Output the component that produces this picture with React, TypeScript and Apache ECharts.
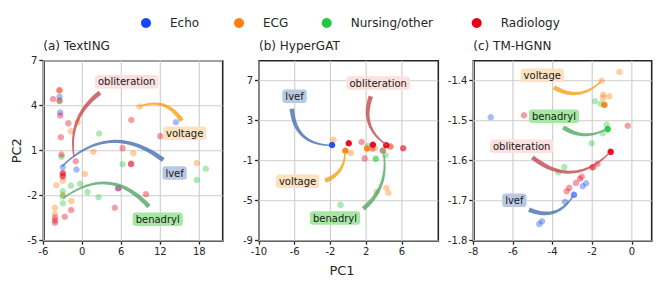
import React, { useEffect, useRef } from "react";
import * as echarts from "echarts";

// ---------- categories / legend ----------
const categories = ["Echo", "ECG", "Nursing/other", "Radiology"];
const categoryColors = ["#1447ff", "#ff7f0e", "#22c93c", "#e8001a"];

// ---------- annotation terms ----------
const terms = ["lvef", "voltage", "benadryl", "obliteration"];
const termArrowColors = ["#4c72b0", "#f7a21b", "#55a868", "#c44e52"];
const termBoxColors = ["#b9c9e4", "#fde2bf", "#a6e7a2", "#fde0e0"];

// ---------- panel (a) TextING ----------
const aXTicks = [-6, 0, 6, 12, 18];
const aYTicks = [-5, -2, 1, 4, 7];
const aXRange = [-6, 21.6];
const aYRange = [-5, 7];
const aEcho = [[-3.5, 4.6], [-3.4, 3.55], [-3.0, -0.1], [-0.9, -0.25], [5.5, -1.5], [14.4, 2.9]];
const aECG = [[-3.55, 5.0], [-1.75, 2.3], [-0.7, 2.9], [-3.0, -1.0], [0.4, -0.55], [-4.0, -1.3], [-3.0, -1.95], [-1.7, -2.35], [-4.2, -2.8], [-4.2, -3.2], [1.7, 0.93], [7.85, 0.83], [8.8, 3.95], [17.6, 0.17]];
const aNursing = [[-3.5, 4.3], [2.6, 2.15], [-3.2, 0.6], [-1.75, -1.33], [-0.35, -1.2], [-3.0, -1.7], [0.8, -1.75], [-3.0, -2.05], [2.5, -2.1], [-3.0, -2.5], [6.2, 0.1], [19.0, -0.2], [17.6, -0.95]];
const aRadiology = [[-3.5, 5.05], [-3.5, 4.35], [-4.5, 4.45], [-3.4, 3.35], [-2.15, 2.83], [-3.3, 1.9], [-3.2, 0.75], [-1.0, 0.3], [-3.0, -0.5], [-3.0, -0.5], [-3.0, -0.7], [-3.0, -0.7], [-1.7, -2.95], [-4.2, -3.45], [-2.7, -3.4], [-4.2, -3.65], [-4.2, -3.8], [5.0, -2.8], [5.55, -1.5], [6.2, 1.17], [7.5, 0.12], [7.5, 0.12], [7.55, 3.05], [12.0, 1.97], [9.8, -1.9]];
const aStrong = [[], [], [], []];
const aLabelPos = [[14.2, -0.49], [15.75, 2.16], [11.6, -3.57], [6.83, 5.6]];
const aArrowTail = [[12.46, 0.38], [15.29, 3.0], [10.26, -2.73], [2.72, 4.87]];
const aArrowHead = [[-3.17, -0.07], [8.8, 3.95], [-2.92, -2.17], [-1.28, 0.6]];
const aArrowRad = [0.43, 0.4, 0.45, 0.3];

// ---------- panel (b) HyperGAT ----------
const bXTicks = [-10, -6, -2, 2, 6];
const bYTicks = [-9, -5, -1, 3, 7];
const bXRange = [-10, 10.08];
const bYRange = [-9, 9];
const bEcho: number[][] = [];
const bECG = [[-1.65, 1.1], [0.3, -0.22], [3.0, 0.25], [3.15, -4.1], [4.25, -3.7], [4.5, -4.2], [4.7, 0.42]];
const bNursing = [[2.16, 0.47], [4.15, -0.45], [-0.87, -5.42], [3.85, 0.05], [3.08, -0.8], [3.08, -0.8]];
const bRadiology = [[1.5, 0.87], [1.83, -0.77], [6.15, 0.25], [6.15, 0.25], [2.7, 0.2], [3.87, 0.0], [4.72, 0.42]];
const bStrong = [[[-1.82, 0.57]], [[-0.33, 0.0], [2.1, 0.22]], [], [[0.05, 0.75], [2.75, 0.6], [4.25, 0.55]]];
const bLabelPos = [[-6.02, 5.44], [-5.68, -3.06], [-1.49, -6.73], [3.35, 6.77]];
const bArrowTail = [[-6.32, 4.2], [-2.6, -3.0], [1.68, -5.8], [2.53, 5.44]];
const bArrowHead = [[-1.97, 0.54], [-0.37, -0.13], [3.98, -0.4], [4.35, 0.54]];
const bArrowRad = [0.45, 0.35, 0.28, 0.39];

// ---------- panel (c) TM-HGNN ----------
const cXTicks = [-8, -6, -4, -2, 0];
const cYTicks = [-1.8, -1.7, -1.6, -1.5, -1.4];
const cXRange = [-8, 1.0];
const cYRange = [-1.8, -1.35];
const cEcho = [[-7.12, -1.4915], [-2.31, -1.6565], [-2.48, -1.664], [-2.92, -1.685], [-2.92, -1.685], [-3.37, -1.703], [-4.53, -1.7515], [-4.67, -1.758]];
const cECG = [[-0.63, -1.378], [-1.52, -1.40], [-1.45, -1.435], [-1.45, -1.443], [-1.14, -1.439]];
const cNursing = [[-1.86, -1.4515], [-1.56, -1.458], [-1.27, -1.51], [-1.47, -1.5315], [-2.03, -1.5565], [-3.41, -1.616], [-3.71, -1.629]];
const cRadiology = [[-5.44, -1.4865], [-0.21, -1.5125], [-1.74, -1.608], [-1.98, -1.6165], [-1.98, -1.6165], [-2.53, -1.64], [-2.62, -1.645], [-2.82, -1.6558], [-3.16, -1.668], [-3.29, -1.6765]];
const cStrong = [[], [[-1.39, -1.46]], [[-1.22, -1.521]], [[-1.07, -1.578]]];
const cLabelPos = [[-5.93, -1.699], [-4.52, -1.3866], [-3.93, -1.489], [-5.56, -1.564]];
const cArrowTail = [[-5.19, -1.7225], [-3.93, -1.4166], [-3.46, -1.5166], [-5.02, -1.5915]];
const cArrowHead = [[-2.95, -1.6865], [-1.56, -1.4016], [-1.27, -1.52], [-1.14, -1.581]];
const cArrowRad = [0.43, 0.38, 0.31, 0.44];

const panels = [
  { title: "(a) TextING", xTicks: aXTicks, yTicks: aYTicks, xRange: aXRange, yRange: aYRange, faint: [aEcho, aECG, aNursing, aRadiology], strong: aStrong, labelPos: aLabelPos, tail: aArrowTail, head: aArrowHead, rad: aArrowRad },
  { title: "(b) HyperGAT", xTicks: bXTicks, yTicks: bYTicks, xRange: bXRange, yRange: bYRange, faint: [bEcho, bECG, bNursing, bRadiology], strong: bStrong, labelPos: bLabelPos, tail: bArrowTail, head: bArrowHead, rad: bArrowRad },
  { title: "(c) TM-HGNN", xTicks: cXTicks, yTicks: cYTicks, xRange: cXRange, yRange: cYRange, faint: [cEcho, cECG, cNursing, cRadiology], strong: cStrong, labelPos: cLabelPos, tail: cArrowTail, head: cArrowHead, rad: cArrowRad },
];

// ---------- layout ----------
const gridRects = [
  { left: 43.3, top: 60.7, width: 179.4, height: 180 },
  { left: 259, top: 60.7, width: 179.3, height: 180 },
  { left: 473.3, top: 60.7, width: 178.4, height: 180 },
];
const legendX = [146, 239, 326.7, 476.7];
const FONT = "DejaVu Sans";
const DARK = "#262626";

const fmt = (v: number) => String(Number(v.toFixed(2)));

function buildOption() {
  const grid = gridRects.map((g) => ({ ...g, show: true, borderColor: DARK, borderWidth: 1.6, backgroundColor: "transparent" }));
  const axisCommon = (i: number, range: number[], ticks: number[]) => ({
    type: "value",
    gridIndex: i,
    min: range[0],
    max: range[1],
    splitLine: { show: false },
    axisLine: { show: true, onZero: false, lineStyle: { color: DARK, width: 1.6 } },
    axisTick: { show: true, customValues: ticks, length: 4, lineStyle: { color: DARK, width: 1.3 } },
    axisLabel: { customValues: ticks, formatter: (v: number) => fmt(v), fontSize: 10, fontFamily: FONT, color: DARK, margin: 6 },
  });
  const xAxis = panels.map((p, i) => axisCommon(i, p.xRange, p.xTicks));
  const yAxis = panels.map((p, i) => {
    const ax: any = axisCommon(i, p.yRange, p.yTicks);
    if (i === 0) {
      ax.name = "PC2";
      ax.nameLocation = "middle";
      ax.nameGap = 20;
      ax.nameTextStyle = { fontSize: 13, fontFamily: FONT, color: DARK };
    }
    return ax;
  });

  const series: any[] = [];
  panels.forEach((p, i) => {
    // grid lines
    const gl = [
      ...p.xTicks.map((v) => [v, p.yRange[0], 0]),
      ...p.yTicks.map((v) => [p.xRange[0], v, 1]),
    ];
    series.push({
      type: "custom",
      xAxisIndex: i,
      yAxisIndex: i,
      silent: true,
      z: 1,
      data: gl,
      renderItem: (params: any, api: any) => {
        const cs = params.coordSys;
        const pt = api.coord([api.value(0), api.value(1)]);
        const kind = api.value(2);
        const shape = kind === 0
          ? { x1: pt[0], y1: cs.y, x2: pt[0], y2: cs.y + cs.height }
          : { x1: cs.x, y1: pt[1], x2: cs.x + cs.width, y2: pt[1] };
        return { type: "line", shape, style: { stroke: "#cdcdcd", lineWidth: 1.1 } };
      },
    });
    // scatter points
    categories.forEach((c, k) => {
      series.push({
        type: "scatter", name: c, xAxisIndex: i, yAxisIndex: i, silent: true, z: 2,
        symbolSize: 6.5, data: p.faint[k],
        itemStyle: { color: categoryColors[k], opacity: 0.38 },
      });
      if (p.strong[k].length) {
        series.push({
          type: "scatter", name: c, xAxisIndex: i, yAxisIndex: i, silent: true, z: 3,
          symbolSize: 6.5, data: p.strong[k],
          itemStyle: { color: categoryColors[k], opacity: 0.95 },
        });
      }
    });
    // arrows
    const arrowData = terms.map((_, k) => [p.tail[k][0], p.tail[k][1], p.head[k][0], p.head[k][1], p.rad[k], k]);
    series.push({
      type: "custom", xAxisIndex: i, yAxisIndex: i, silent: true, z: 4,
      data: arrowData,
      renderItem: (params: any, api: any) => {
        const t = api.coord([api.value(0), api.value(1)]);
        const h = api.coord([api.value(2), api.value(3)]);
        const rad = api.value(4);
        const k = api.value(5);
        const dx = h[0] - t[0], dy = h[1] - t[1];
        const cx = (t[0] + h[0]) / 2 - rad * dy;
        const cy = (t[1] + h[1]) / 2 + rad * dx;
        const N = 32;
        const left: number[][] = [];
        const right: number[][] = [];
        for (let j = 0; j <= N; j++) {
          const s = j / N;
          const x = (1 - s) * (1 - s) * t[0] + 2 * (1 - s) * s * cx + s * s * h[0];
          const y = (1 - s) * (1 - s) * t[1] + 2 * (1 - s) * s * cy + s * s * h[1];
          const tx = 2 * (1 - s) * (cx - t[0]) + 2 * s * (h[0] - cx);
          const ty = 2 * (1 - s) * (cy - t[1]) + 2 * s * (h[1] - cy);
          const len = Math.hypot(tx, ty) || 1;
          const nx = -ty / len, ny = tx / len;
          const w = (4.6 * (1 - s) + 1.4 * s) / 2;
          left.push([x + nx * w, y + ny * w]);
          right.push([x - nx * w, y - ny * w]);
        }
        return {
          type: "polygon",
          shape: { points: left.concat(right.reverse()) },
          style: { fill: termArrowColors[k], opacity: 0.82 },
        };
      },
    });
    // labels
    const labelData = terms.map((_, k) => [p.labelPos[k][0], p.labelPos[k][1], k]);
    series.push({
      type: "custom", xAxisIndex: i, yAxisIndex: i, silent: true, z: 5,
      data: labelData,
      renderItem: (params: any, api: any) => {
        const pt = api.coord([api.value(0), api.value(1)]);
        const k = api.value(2);
        return {
          type: "text",
          x: pt[0],
          y: pt[1],
          style: {
            text: terms[k],
            fontSize: 10,
            fontFamily: FONT,
            fill: "#1a1a1a",
            align: "center",
            verticalAlign: "middle",
            backgroundColor: termBoxColors[k],
            padding: [1.5, 3, 1, 3],
            lineHeight: 11,
            borderRadius: 3,
          },
        };
      },
    });
  });

  const title = panels.map((p, i) => ({
    text: p.title,
    left: gridRects[i].left,
    top: 40,
    padding: 0,
    textStyle: { fontSize: 12, fontWeight: "normal", fontFamily: FONT, color: DARK },
  }));

  const graphic: any[] = [];
  categories.forEach((c, i) => {
    graphic.push({ type: "circle", shape: { cx: legendX[i], cy: 23, r: 5 }, style: { fill: categoryColors[i] } });
    graphic.push({ type: "text", x: legendX[i] + 24, y: 23, style: { text: c, fontSize: 12, fontFamily: FONT, fill: DARK, verticalAlign: "middle" } });
  });
  graphic.push({ type: "text", x: 342, y: 270, style: { text: "PC1", fontSize: 13, fontFamily: FONT, fill: DARK, align: "center", verticalAlign: "middle" } });

  return {
    animation: false,
    backgroundColor: "#ffffff",
    title,
    grid,
    xAxis,
    yAxis,
    series,
    graphic,
  };
}

export default function App() {
  const ref = useRef<HTMLDivElement>(null);
  useEffect(() => {
    if (!ref.current) return;
    const chart = echarts.init(ref.current, null, { renderer: "svg" });
    chart.setOption(buildOption() as any);
    return () => chart.dispose();
  }, []);
  return <div ref={ref} style={{ position: "absolute", left: 0, top: 0, width: 665, height: 289 }} />;
}
